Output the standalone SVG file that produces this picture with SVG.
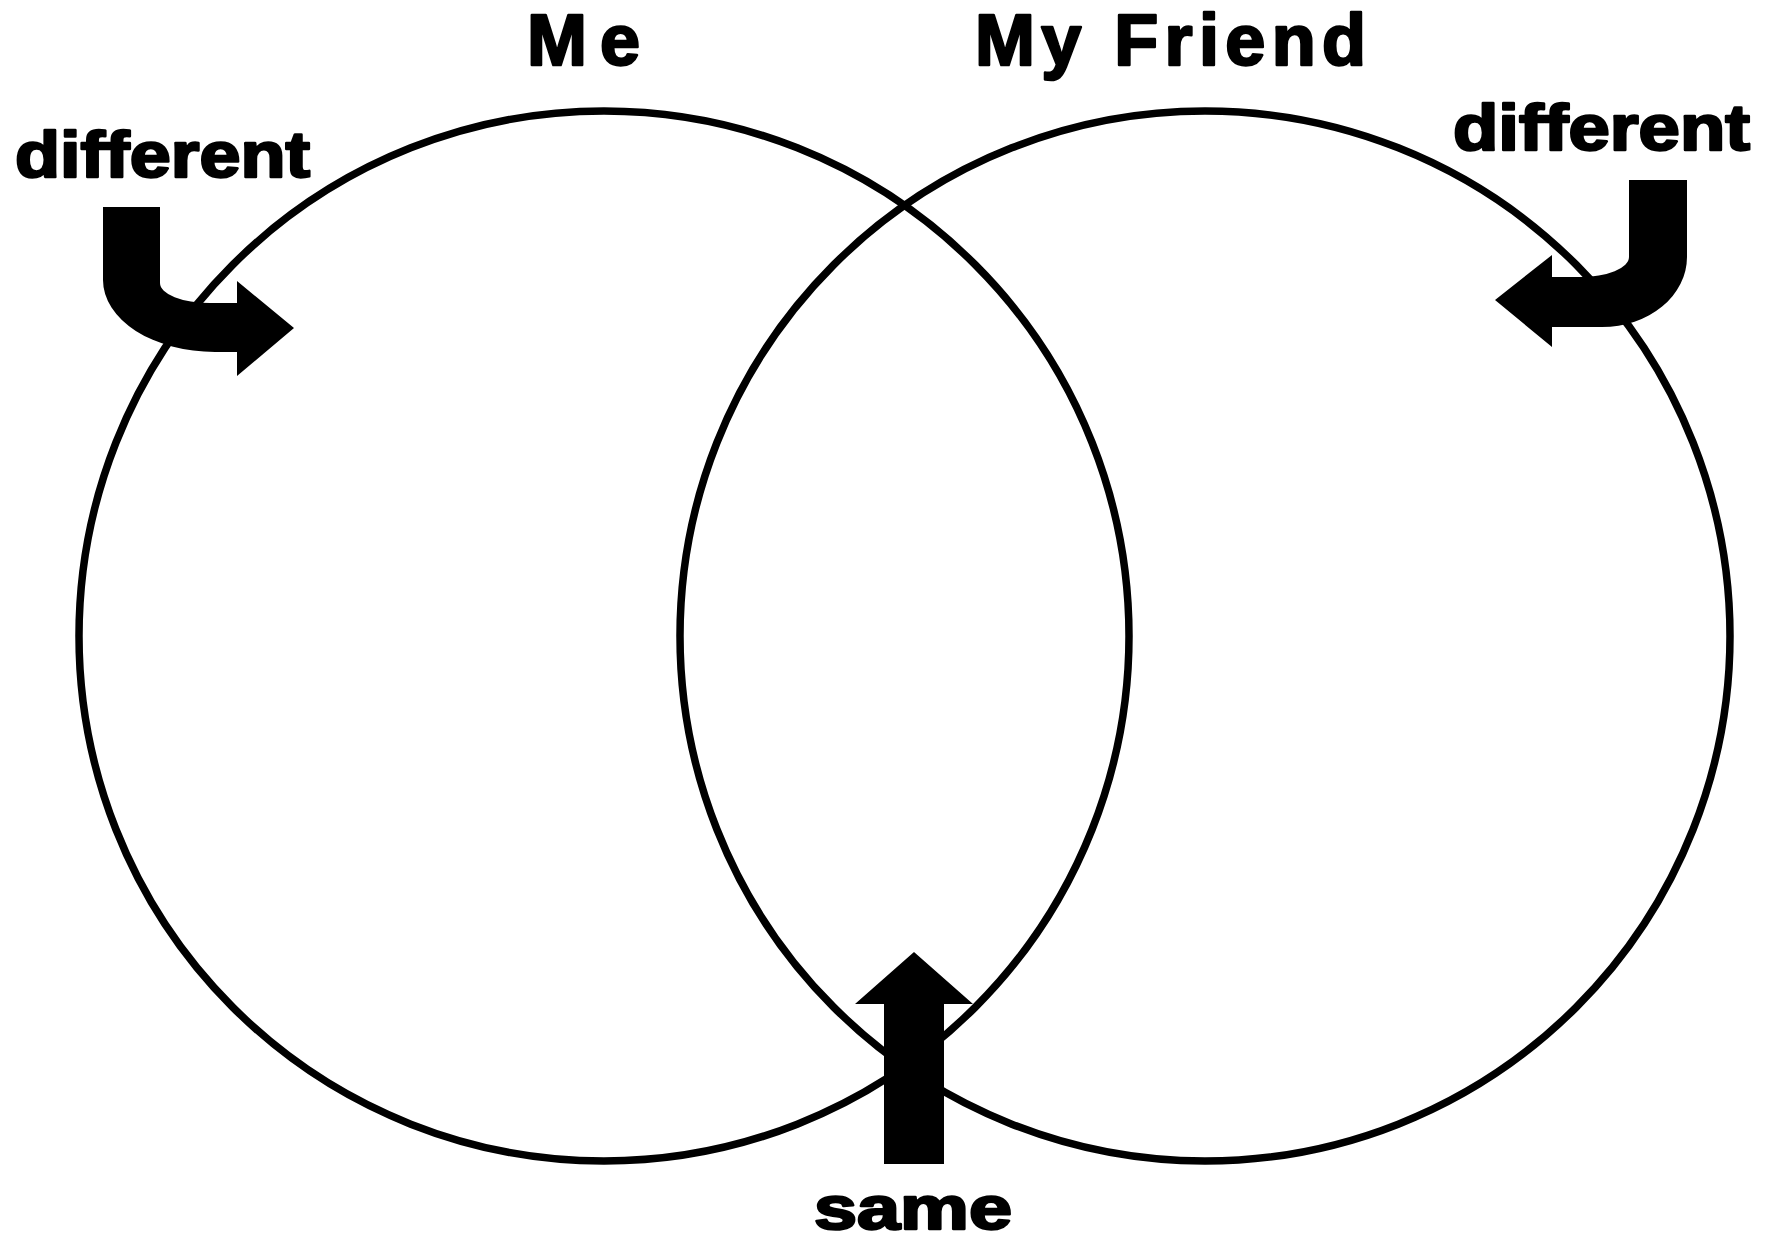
<svg xmlns="http://www.w3.org/2000/svg" width="1777" height="1242" viewBox="0 0 1777 1242">
  <style>
    .ring { fill: none; stroke: #000; stroke-width: 7.5; }
    .lbl { font-family: "Liberation Sans", Arial, sans-serif; font-weight: bold; fill: #000; stroke: #000; stroke-width: 2.5; stroke-linejoin: round; }
    .title { font-size: 72px; }
    .small { font-size: 65px; }
    .arrow { fill: #000; stroke: none; }
  </style>
  <rect x="0" y="0" width="1777" height="1242" fill="#fff"/>
  <g id="me-circle">
    <circle class="ring" cx="604" cy="636" r="525"/>
  </g>
  <g id="friend-circle">
    <circle class="ring" cx="1205" cy="636" r="525"/>
  </g>
  <g id="title-me">
    <text class="lbl title" x="527" y="65" textLength="113">Me</text>
  </g>
  <g id="title-friend">
    <text class="lbl title" x="975" y="65" textLength="391">My Friend</text>
  </g>
  <g id="label-different-left">
    <text class="lbl small" x="15" y="177" textLength="295" lengthAdjust="spacingAndGlyphs">different</text>
  </g>
  <g id="label-different-right">
    <text class="lbl small" x="1453" y="150" textLength="297" lengthAdjust="spacingAndGlyphs">different</text>
  </g>
  <g id="label-same">
    <text class="lbl" style="font-size:62px" x="814" y="1229" textLength="198" lengthAdjust="spacingAndGlyphs">same</text>
  </g>
  <g id="connectors">
    <path class="arrow" d="M103,207 L160,207 L160,283 A50,20 0 0 0 210,303 L237,303 L237,281 L294,328 L237,376 L237,352 L215,352 A112,72 0 0 1 103,280 Z"/>
    <path class="arrow" d="M1629,180 L1687,180 L1687,257 A85,70 0 0 1 1602,327 L1552,327 L1552,347 L1495,300 L1552,255 L1552,277 L1580,277 A49,20 0 0 0 1629,257 Z"/>
    <path class="arrow" d="M884,1164 L944,1164 L944,1004 L973,1004 L914,952 L855,1004 L884,1004 Z"/>
  </g>
</svg>
